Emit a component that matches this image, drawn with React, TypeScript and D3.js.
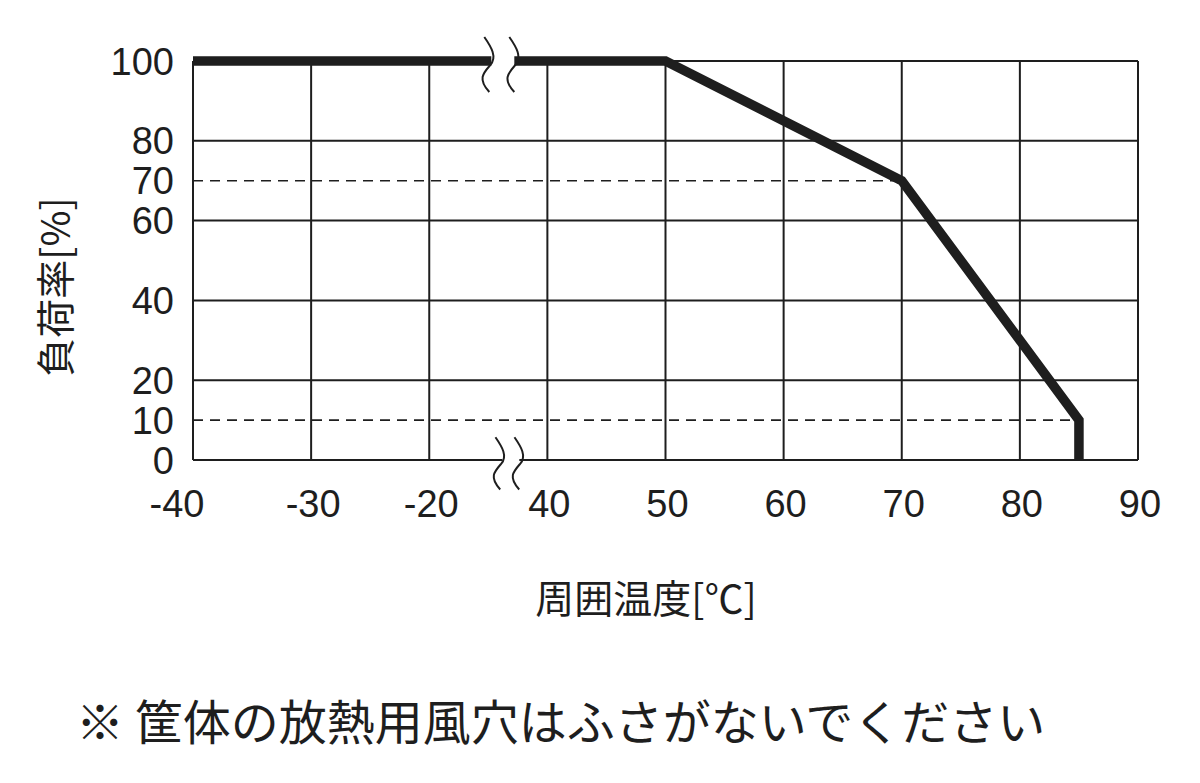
import React from "react";
import * as d3 from "d3";

const xTickLabels = [-40, -30, -20, 40, 50, 60, 70, 80, 90];
const yTickLabels = [0, 10, 20, 40, 60, 70, 80, 100];
const ySolidGrid = [20, 40, 60, 80];
const dashedLoads = [70, 10];
const dashedEndTemps = [70, 85];
const curveTemps = [-40, 50, 70, 85, 85];
const curveLoads = [100, 100, 70, 10, 0];
const yTitle = "負荷率[%]";
const xTitle = "周囲温度[℃]";
const footnote = "※ 筐体の放熱用風穴はふさがないでください";

const W = 1200;
const H = 783;
const left = 193;
const right = 1138;
const top = 61;
const bottom = 460;
const step = (right - left) / 8;

const x = d3
  .scaleLinear()
  .domain([-40, -20, 40, 90])
  .range([left, left + 2 * step, left + 3 * step, right]);
const y = d3.scaleLinear().domain([0, 100]).range([bottom, top]);

const INK = "#1e1e1e";
const latin = "'Liberation Sans', Arial, sans-serif";
const cjk = "'Noto Sans CJK JP', 'Noto Sans', sans-serif";

function squiggle(cx: number, cy: number, s: number) {
  const p = d3.path();
  p.moveTo(cx - 3 * s, cy - 24 * s);
  p.bezierCurveTo(cx + 4 * s, cy - 14 * s, cx + 10 * s, cy - 4 * s, cx + 3 * s, cy + 4 * s);
  p.bezierCurveTo(cx - 4 * s, cy + 12 * s, cx - 10 * s, cy + 18 * s, cx + 2 * s, cy + 31 * s);
  return p.toString();
}

export default function App() {
  const lineGen = d3
    .line<number>()
    .x((_, i) => x(curveTemps[i]))
    .y((d) => y(d));
  const curvePath = lineGen(curveLoads) || "";

  const topBreak = [left + 2.5 * step - 1, left + 2.5 * step + 24];
  const botBreak = [left + 2.5 * step + 10, left + 2.5 * step + 29];

  return (
    <svg
      width={W}
      height={H}
      viewBox={`0 0 ${W} ${H}`}
      style={{ position: "absolute", left: 0, top: 0, background: "#fff" }}
    >
      <rect x={0} y={0} width={W} height={H} fill="#fff" />
      {xTickLabels.map((t) => (
        <line
          key={"vx" + t}
          x1={x(t)}
          x2={x(t)}
          y1={y(100)}
          y2={y(0)}
          stroke={INK}
          strokeWidth={2}
        />
      ))}
      {[0, ...ySolidGrid, 100].map((v) => (
        <line
          key={"hy" + v}
          x1={left}
          x2={right}
          y1={y(v)}
          y2={y(v)}
          stroke={INK}
          strokeWidth={2}
        />
      ))}
      {dashedLoads.map((v, i) => (
        <line
          key={"dy" + v}
          x1={left}
          x2={x(dashedEndTemps[i])}
          y1={y(v)}
          y2={y(v)}
          stroke={INK}
          strokeWidth={1.6}
          strokeDasharray="10,7"
        />
      ))}
      <path
        d={curvePath}
        fill="none"
        stroke={INK}
        strokeWidth={9.5}
        strokeLinejoin="miter"
        strokeLinecap="butt"
      />
      <rect
        x={topBreak[0] + 4}
        y={y(100) - 6}
        width={topBreak[1] - topBreak[0] - 2}
        height={12}
        fill="#fff"
      />
      <rect
        x={botBreak[0] + 4}
        y={y(0) - 3}
        width={botBreak[1] - botBreak[0] - 2}
        height={6}
        fill="#fff"
      />
      {topBreak.map((cx, i) => (
        <path
          key={"tb" + i}
          d={squiggle(cx, y(100), 1)}
          fill="none"
          stroke={INK}
          strokeWidth={2}
        />
      ))}
      {botBreak.map((cx, i) => (
        <path
          key={"bb" + i}
          d={squiggle(cx, y(0), 0.95)}
          fill="none"
          stroke={INK}
          strokeWidth={2}
        />
      ))}
      {yTickLabels.map((v) => (
        <text
          key={"yl" + v}
          x={174}
          y={y(v) + 13.5}
          textAnchor="end"
          fontFamily={latin}
          fontSize={38}
          fill={INK}
        >
          {v}
        </text>
      ))}
      {xTickLabels.map((t, i) => (
        <text
          key={"xl" + t}
          x={x(t) + 2 + (i === 0 ? -18 : 0)}
          y={517}
          textAnchor="middle"
          fontFamily={latin}
          fontSize={38}
          fill={INK}
        >
          {t}
        </text>
      ))}
      <text
        transform={`translate(70,287) rotate(-90)`}
        textAnchor="middle"
        fontFamily={cjk}
        fontSize={39}
        fill={INK}
      >
        {yTitle}
      </text>
      <text
        x={646}
        y={613}
        textAnchor="middle"
        fontFamily={cjk}
        fontSize={39}
        fill={INK}
      >
        {xTitle}
      </text>
      <text x={76} y={740} fontFamily={cjk} fontSize={48} fill={INK}>
        {footnote}
      </text>
    </svg>
  );
}
